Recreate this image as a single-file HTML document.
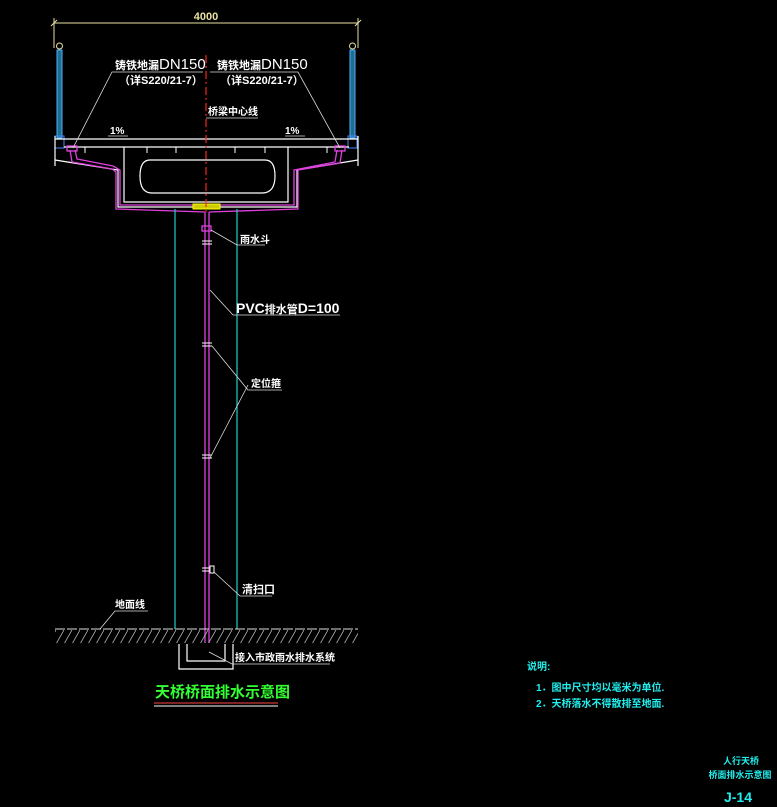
<!DOCTYPE html>
<html><head><meta charset="utf-8"><style>
html,body{margin:0;padding:0;background:#000;width:777px;height:807px;overflow:hidden}
svg{display:block}
text{font-family:"Liberation Sans","Noto Sans CJK SC",sans-serif;font-weight:bold}
</style></head><body>
<svg width="777" height="807" viewBox="0 0 777 807" xmlns="http://www.w3.org/2000/svg">
<defs><pattern id="h" width="8" height="14" patternUnits="userSpaceOnUse"><line x1="0" y1="14" x2="8" y2="0" stroke="#bbb" stroke-width="0.8"/></pattern></defs>
<!-- dimension -->
<g stroke="#e8e0a0" stroke-width="1" fill="none">
<line x1="54" y1="23" x2="358" y2="23"/><line x1="54" y1="18" x2="54" y2="48"/><line x1="358" y1="18" x2="358" y2="48"/>
<line x1="51" y1="26" x2="57" y2="20"/><line x1="355" y1="26" x2="361" y2="20"/>
</g>
<text x="206" y="20" fill="#e8e0a0" font-size="11" font-weight="normal" text-anchor="middle">4000</text>
<!-- railings -->
<g fill="#1b6f8f" stroke="#5af" stroke-width="1">
<rect x="57" y="50" width="5" height="88"/><rect x="350" y="50" width="5" height="88"/>
</g>
<circle cx="59.5" cy="46" r="3" stroke="#e8e0a0" fill="none"/><circle cx="352.5" cy="46" r="3" stroke="#e8e0a0" fill="none"/>
<rect x="55" y="136" width="9" height="12" stroke="#48f" fill="none"/><rect x="348" y="136" width="9" height="12" stroke="#48f" fill="none"/>
<!-- deck -->
<g stroke="#fff" stroke-width="1.2" fill="none">
<polyline points="55,136 55,166"/><polyline points="358,136 358,166"/>
<line x1="55" y1="139" x2="358" y2="139"/>
<line x1="64" y1="147" x2="349" y2="147"/>
<polyline points="55,160 118,170 118,207 297,207 297,170 358,160"/>
<polyline points="124,147 124,202 288,202 288,147"/>
<path d="M150,160 H265 Q275,160 275,176 Q275,193 262,193 H152 Q140,193 140,176 Q140,160 150,160 Z"/>
<g stroke-width="1"><line x1="85" y1="147" x2="85" y2="153"/><line x1="147" y1="147" x2="147" y2="153"/><line x1="176" y1="147" x2="176" y2="153"/><line x1="235" y1="147" x2="235" y2="153"/><line x1="265" y1="147" x2="265" y2="153"/><line x1="327" y1="147" x2="327" y2="153"/></g>
</g>
<!-- magenta drain path -->
<g stroke="#e040e0" stroke-width="1.3" fill="none">
<polyline points="70,150 72,162 112,169 116,172 116,209 205,212"/>
<polyline points="75,150 77,159 113,166 120,170 120,205 294,205 294,170 335,162 337,150"/>
<polyline points="342,150 340,163 298,170 298,209 209,212"/>
<rect x="67" y="146" width="10" height="5"/><rect x="335" y="146" width="10" height="5"/>
<line x1="205" y1="212" x2="205" y2="655"/><line x1="209" y1="212" x2="209" y2="655"/>
<rect x="202" y="226" width="9" height="5"/>
</g>
<g stroke="#fff" stroke-width="1"><line x1="202" y1="241" x2="212" y2="241"/><line x1="202" y1="244" x2="212" y2="244"/><line x1="202" y1="343" x2="212" y2="343"/><line x1="202" y1="346" x2="212" y2="346"/><line x1="202" y1="455" x2="212" y2="455"/><line x1="202" y1="458" x2="212" y2="458"/><line x1="202" y1="568" x2="210" y2="568"/><line x1="202" y1="571" x2="210" y2="571"/><rect x="210" y="566" width="4" height="7" fill="none"/></g>
<rect x="193" y="204" width="27" height="5" fill="#cc0" stroke="#ff0"/>
<!-- centerline -->
<line x1="206" y1="55" x2="206" y2="212" stroke="#f22" stroke-width="1.2" stroke-dasharray="8,3,2,3"/>
<!-- column -->
<g stroke="#2cc" stroke-width="1.2"><line x1="175" y1="209" x2="175" y2="629"/><line x1="237" y1="209" x2="237" y2="629"/></g>
<!-- ground -->
<line x1="55" y1="629" x2="358" y2="629" stroke="#ddd" stroke-dasharray="10,2"/>
<rect x="55" y="630" width="303" height="13" fill="url(#h)"/>
<rect x="176" y="643" width="60" height="27" fill="#000"/>
<polyline points="179,644 179,669 233,669 233,644" stroke="#fff" stroke-width="1.2" fill="none"/>
<polyline points="187,644 187,661 225,661 225,644" stroke="#fff" stroke-width="1.2" fill="none"/>
<!-- leaders -->
<g stroke="#ddd" stroke-width="0.8" fill="none">
<polyline points="203,72 112,72 73,148"/><polyline points="210,72 298,72 340,148"/>
<line x1="206" y1="118" x2="258" y2="118"/>
<line x1="108" y1="136" x2="128" y2="136"/><line x1="285" y1="136" x2="305" y2="136"/>
<polyline points="211,230 237,245 265,245"/>
<polyline points="210,290 233,315 340,315"/>
<polyline points="212,346 248,390 282,390"/>
<polyline points="210,458 248,385"/>
<polyline points="214,572 240,596 272,596"/>
<polyline points="100,629 115,611 148,611"/>
<polyline points="209,652 232,664 330,664"/>
</g>
<!-- labels -->
<g fill="#fff" font-size="11">
<text x="115" y="69">铸铁地漏<tspan font-weight="normal" font-size="15">DN150</tspan></text>
<text x="217" y="69">铸铁地漏<tspan font-weight="normal" font-size="15">DN150</tspan></text>
<text x="119" y="84" font-weight="normal">（详S220/21-7）</text>
<text x="220" y="84" font-weight="normal">（详S220/21-7）</text>
<text x="208" y="115" font-size="10">桥梁中心线</text>
<text x="110" y="134" font-size="10" font-weight="normal">1%</text>
<text x="285" y="134" font-size="10" font-weight="normal">1%</text>
<text x="240" y="243" font-size="10">雨水斗</text>
<text x="236" y="313" font-size="14" font-weight="normal">PVC<tspan font-size="11" font-weight="bold">排水管</tspan>D=100</text>
<text x="251" y="387" font-size="10">定位箍</text>
<text x="242" y="593" font-size="11">清扫口</text>
<text x="115" y="608" font-size="10">地面线</text>
<text x="235" y="661" font-size="10">接入市政雨水排水系统</text>
</g>
<text x="155" y="697" fill="#3f3" font-size="15">天桥桥面排水示意图</text>
<line x1="154" y1="703" x2="278" y2="703" stroke="#f44"/><line x1="154" y1="706" x2="278" y2="706" stroke="#fff"/>
<!-- notes -->
<g fill="#2ee" font-size="10">
<text x="527" y="670">说明:</text>
<text x="536" y="691">1．图中尺寸均以毫米为单位.</text>
<text x="536" y="707">2．天桥落水不得散排至地面.</text>
<text x="741" y="764" text-anchor="middle" font-size="9">人行天桥</text>
<text x="740" y="778" text-anchor="middle" font-size="9">桥面排水示意图</text>
<text x="738" y="802" text-anchor="middle" font-size="14" font-weight="normal">J-14</text>
</g>
</svg>
</body></html>
